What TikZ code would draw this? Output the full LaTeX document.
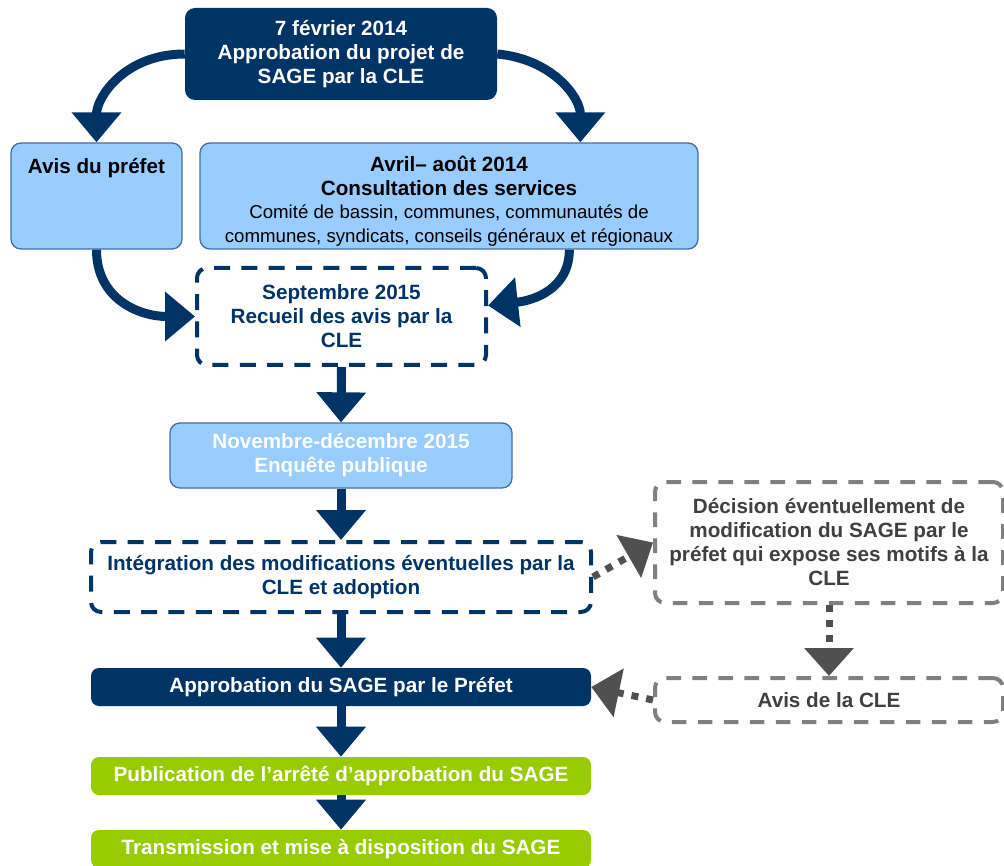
\documentclass[tikz,border=0pt]{standalone}
\usepackage{fontspec}
\setmainfont{Liberation Sans}
\usetikzlibrary{arrows.meta,calc}
\definecolor{navy}{RGB}{0,51,102}
\definecolor{lblue}{RGB}{153,204,255}
\definecolor{lbord}{RGB}{70,110,165}
\definecolor{lgreen}{RGB}{153,204,0}
\definecolor{gbord}{RGB}{128,128,128}
\definecolor{garrow}{RGB}{80,80,80}
\definecolor{gtext}{RGB}{64,64,64}
\newcommand{\smalltxt}{\fontsize{14}{15.75}\selectfont\mdseries}
\tikzset{
  bigfont/.style={font=\fontsize{15.5}{18}\selectfont\bfseries},
  basebox/.style={rounded corners=7.5pt, inner sep=0pt, align=center, bigfont},
  navybox/.style={basebox, fill=navy, text=white},
  bluebox/.style={basebox, fill=lblue, draw=lbord, line width=1pt},
  greenbox/.style={basebox, fill=lgreen, text=white},
  dashnavy/.style={basebox, fill=white, draw=navy, text=navy, line width=3pt, dash pattern=on 12pt off 8.5pt},
  dashgray/.style={basebox, fill=white, draw=gbord, text=gtext, line width=3pt, dash pattern=on 11pt off 8.5pt},
  flowarrow/.style={draw=navy, line width=6.75pt, -{Triangle[width=36pt,length=22.5pt]}},
  dotarrow/.style={draw=garrow, line width=5.25pt, dash pattern=on 5.25pt off 6pt, -{Triangle[width=36pt,length=21pt]}},
}
\begin{document}
\begin{tikzpicture}[x=0.75pt,y=-0.75pt]
\useasboundingbox (0,0) rectangle (1004,866);

\node[navybox, minimum width=234pt, minimum height=69pt] (top) at (341,54)
  {7 février 2014\\Approbation du projet de\\SAGE par la CLE};

\node[bluebox, minimum width=128.25pt, minimum height=79.5pt,
  label={[bigfont, anchor=north, inner sep=0pt, yshift=-11.5pt]north:Avis du préfet}] (avis) at (96.5,196) {};

\node[bluebox, minimum width=373.5pt, minimum height=79.5pt] (cons) at (449,196) {};
\node[basebox, anchor=north] (constext) at (449,156)
  {Avril– août 2014\\Consultation des services\\[-1pt]
   \smalltxt Comité de bassin, communes, communautés de\\\smalltxt communes, syndicats, conseils généraux et régionaux};

\node[dashnavy, minimum width=216.75pt, minimum height=72.75pt] (sept) at (341.5,316.5)
  {Septembre 2015\\Recueil des avis par la\\CLE};

\node[bluebox, text=white, minimum width=256.5pt, minimum height=48.75pt] (nov) at (341,455.5)
  {Novembre-décembre 2015\\Enquête publique};

\node[dashnavy, minimum width=375pt, minimum height=52.5pt] (integ) at (341,577)
  {Intégration des modifications éventuelles par la\\CLE et adoption};

\node[navybox, rounded corners=6pt, minimum width=375pt, minimum height=28.5pt] (appro) at (341,687)
  {Approbation du SAGE par le Préfet};

\node[greenbox, rounded corners=6pt, minimum width=375pt, minimum height=28.5pt] (pub) at (341,776)
  {Publication de l’arrêté d’approbation du SAGE};

\node[greenbox, rounded corners=6pt, minimum width=375pt, minimum height=28.5pt] (trans) at (341,849)
  {Transmission et mise à disposition du SAGE};

\node[dashgray, minimum width=261pt, minimum height=90.75pt] (dec) at (829,542.5)
  {Décision éventuellement de\\modification du SAGE par le\\préfet qui expose ses motifs à la\\CLE};

\node[dashgray, minimum width=261pt, minimum height=33pt] (avisc) at (829,700)
  {Avis de la CLE};

% curved arrows
\draw[flowarrow] (top.west) .. controls +(-60,0) and +(0,-45) .. (avis.north);
\draw[flowarrow] (top.east) .. controls +(55,5) and +(0,-45) .. ($(cons.north west)+(381,0)$);
\draw[flowarrow] (avis.south) .. controls +(0,50) and +(-55,0) .. (sept.west);
\draw[flowarrow] ($(cons.south west)+(370,0)$) .. controls +(0,40) and +(45,-5) .. ($(sept.east)+(0,-11)$);

% straight arrows
\draw[flowarrow] (sept.south) -- (nov.north);
\draw[flowarrow] (nov.south) -- (integ.north);
\draw[flowarrow] (integ.south) -- (appro.north);
\draw[flowarrow] (appro.south) -- (pub.north);
\draw[flowarrow] (pub.south) -- (trans.north);

% dotted gray arrows
\draw[dotarrow] (integ.east) -- (dec.west);
\draw[dotarrow] (dec.south) -- (avisc.north);
\draw[dotarrow] (avisc.west) -- (appro.east);
\end{tikzpicture}
\end{document}
